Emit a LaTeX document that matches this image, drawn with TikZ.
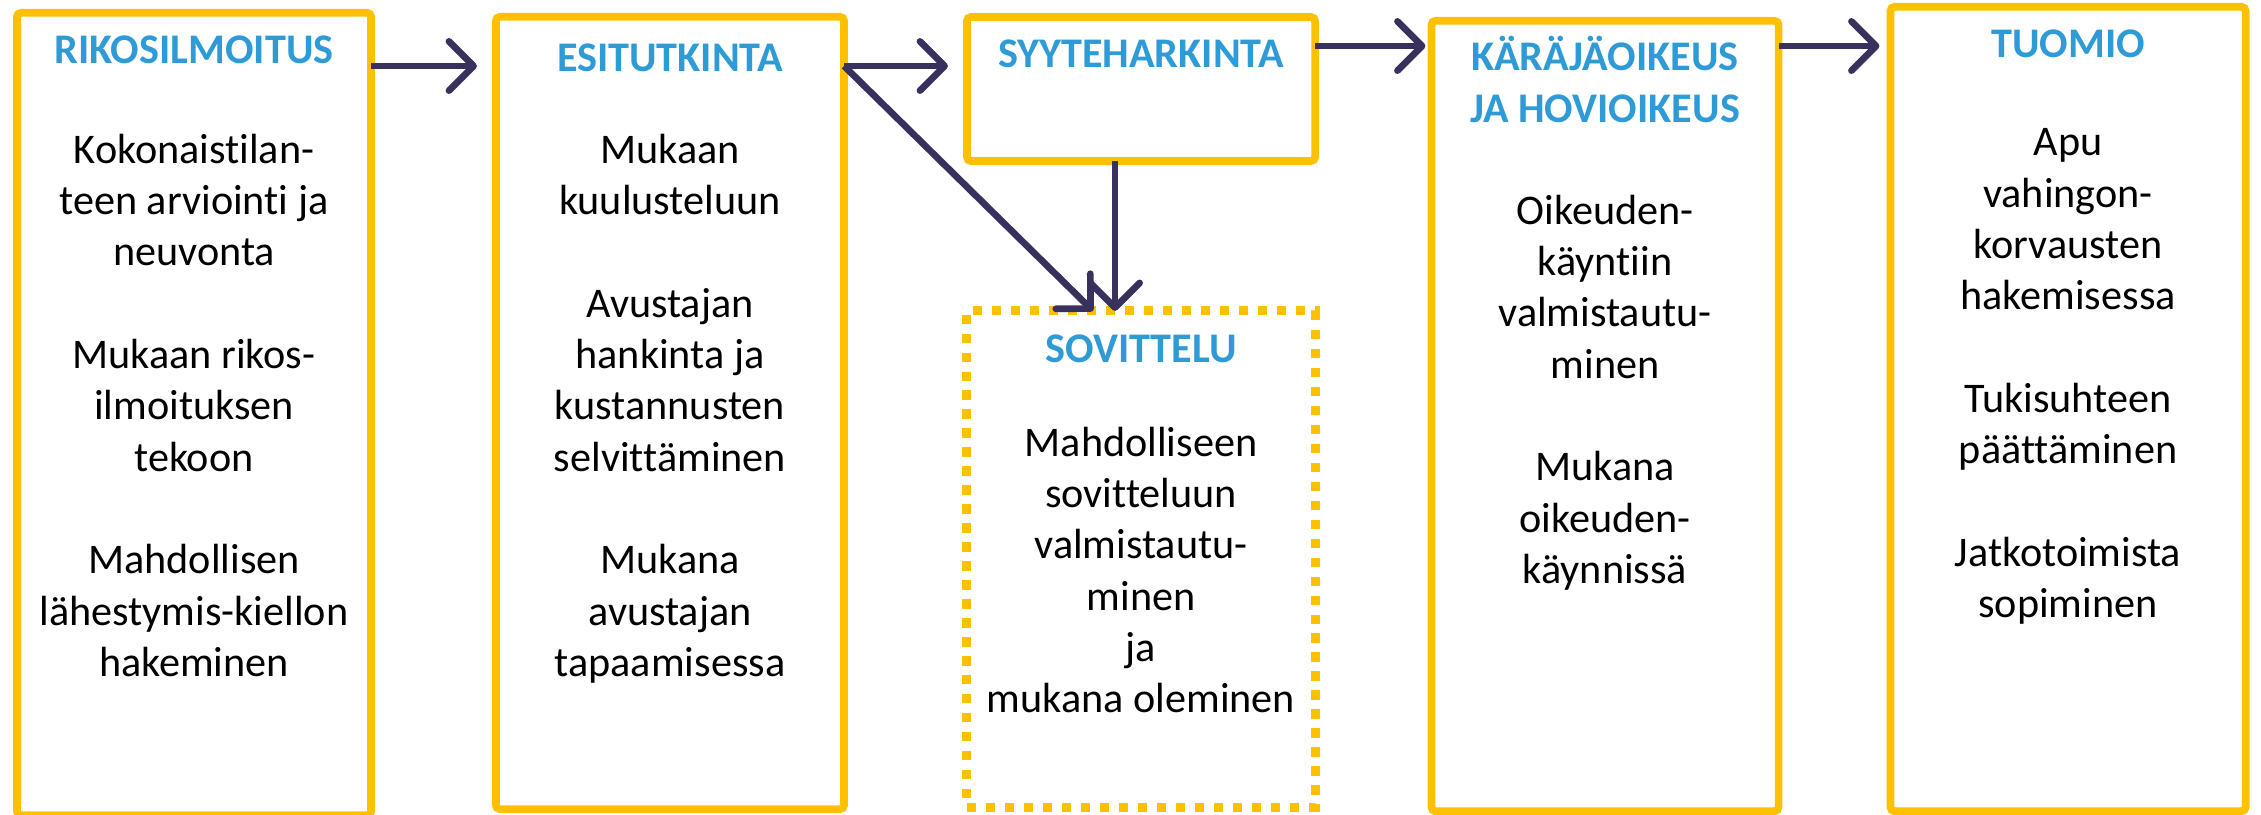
\documentclass[tikz,border=0pt]{standalone}
\usepackage{fontspec}
\setmainfont{Carlito}[Ligatures={NoCommon}]
\usetikzlibrary{arrows.meta}
\definecolor{boxyellow}{RGB}{255,192,0}
\definecolor{arrownavy}{RGB}{56,49,94}
\definecolor{headblue}{RGB}{46,155,214}

\begin{document}
\begin{tikzpicture}[x=0.01cm,y=-0.01cm,
  box/.style={draw=boxyellow,line width=2.2pt,rounded corners=1.2pt,
    outer sep=0pt,inner sep=0pt},
  dotbox/.style={box,rounded corners=0pt,line width=2.6pt,
    dash pattern=on 2.6pt off 2.8pt},
  txt/.style={inner sep=0pt,anchor=north,align=center,
    font=\fontsize{12}{14.6}\selectfont,execute at begin node=\strut},
  head/.style={txt,font=\fontsize{12}{14.8}\selectfont\bfseries,text=headblue},
  arr/.style={draw=arrownavy,line width=1.9pt,
    -{Straight Barb[round,length=7pt,width=14pt]}}]
\useasboundingbox (0,0) rectangle (2261,814);
% boxes: name/centre x/centre y/width/height (cm)
\foreach \n/\cx/\cy/\w/\h in {rikos/194/414/3.54/8.02,esi/670/413/3.48/7.92,
  syyte/1141/89/3.48/1.44,kara/1605/416/3.47/7.90,tuomio/2068/409/3.55/8.04}{
\node[box,minimum width=\w cm,minimum height=\h cm] (\n) at (\cx,\cy) {};
}
\node[dotbox,minimum width=3.48cm,minimum height=4.96cm] (sovit) at (1141,559) {};
% headings
\node[head] (rikosH) at (194,26) {RIKOSILMOITUS};
\node[head] (esiH) at (670,34) {ESITUTKINTA};
\node[head] (syyteH) at (1141,30) {SYYTEHARKINTA};
\node[head] (sovitH) at (1141,325) {SOVITTELU};
\node[head] (karaH) at (1605,35) {KÄRÄJÄOIKEUS\\JA HOVIOIKEUS};
\node[head] (tuomioH) at (2068,20) {TUOMIO};
% texts
\node[txt] (rikosT) at (194,133) {Kokonaistilan-\\teen arviointi ja\\neuvonta\\ \\
  Mukaan rikos-\\ilmoituksen\\tekoon\\ \\Mahdollisen\\lähestymis-kiellon\\hakeminen};
\node[txt] (esiT) at (670,133) {Mukaan\\kuulusteluun\\ \\Avustajan\\hankinta ja\\
  kustannusten\\selvittäminen\\ \\Mukana\\avustajan\\tapaamisessa};
\node[txt] (sovitT) at (1141,426) {Mahdolliseen\\sovitteluun\\valmistautu-\\minen\\ja\\
  mukana oleminen};
\node[txt] (karaT) at (1605,194) {Oikeuden-\\käyntiin\\valmistautu-\\minen\\ \\
  Mukana\\oikeuden-\\käynnissä};
\node[txt] (tuomioT) at (2068,128) {Apu\\vahingon-\\korvausten\\hakemisessa\\ \\
  Tukisuhteen\\päättäminen\\ \\Jatkotoimista\\sopiminen};
% arrows
\coordinate (row1) at (0,66);
\coordinate (row2) at (0,46);
\draw[arr,shorten >=0.19cm] (rikos.east |- row1) -- (esi.west |- row1);
\draw[arr,shorten >=0.19cm] (esi.east |- row1) -- (syyte.west |- row1);
\draw[arr] (esi.east |- row1) -- ([xshift=-0.48cm]sovit.north);
\draw[arr] ([xshift=-0.26cm]syyte.south) -- ([xshift=-0.26cm]sovit.north);
\draw[arr,shorten >=0.06cm] (syyte.east |- row2) -- (kara.west |- row2);
\draw[arr,shorten >=0.11cm] (kara.east |- row2) -- (tuomio.west |- row2);
\end{tikzpicture}
\end{document}
